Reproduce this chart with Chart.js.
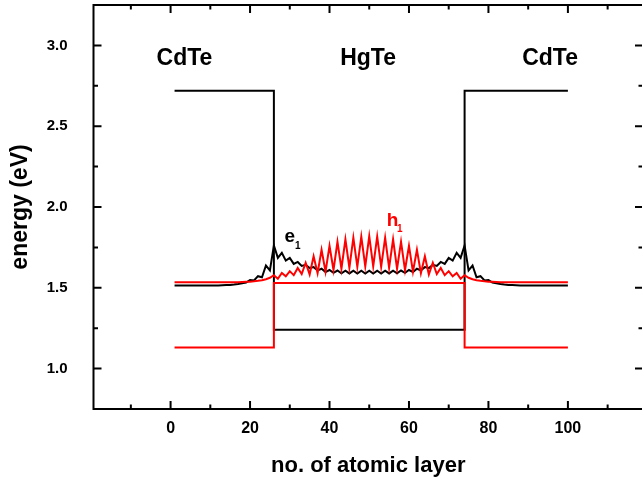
<!DOCTYPE html>
<html>
<head>
<meta charset="utf-8">
<script src="https://cdn.jsdelivr.net/npm/chart.js@4.4.0/dist/chart.umd.min.js"></script>
<style>
  html, body { margin: 0; padding: 0; background: #fff; overflow: hidden; }
  #wrap { width: 646px; height: 483px; position: relative; }
</style>
</head>
<body>
<div id="wrap"><canvas id="bandChart"></canvas></div>
<script>
// atomic layer index
const layers = [
  1, 2, 3, 4, 5, 6, 7, 8, 9, 10, 11, 12, 13, 14, 15, 16, 17, 18, 19, 20,
  21, 22, 23, 24, 25, 26, 27, 28, 29, 30, 31, 32, 33, 34, 35, 36, 37, 38, 39, 40,
  41, 42, 43, 44, 45, 46, 47, 48, 49, 50, 51, 52, 53, 54, 55, 56, 57, 58, 59, 60,
  61, 62, 63, 64, 65, 66, 67, 68, 69, 70, 71, 72, 73, 74, 75, 76, 77, 78, 79, 80,
  81, 82, 83, 84, 85, 86, 87, 88, 89, 90, 91, 92, 93, 94, 95, 96, 97, 98, 99, 100
];

// e1 state (eV)
const e1Energy = [
  1.515, 1.515, 1.515, 1.515, 1.515, 1.515, 1.515, 1.515, 1.515, 1.515,
  1.515, 1.515, 1.516, 1.517, 1.518, 1.520, 1.523, 1.528, 1.532, 1.548,
  1.545, 1.572, 1.565, 1.638, 1.608, 1.762, 1.685, 1.716, 1.668, 1.685,
  1.648, 1.660, 1.635, 1.642, 1.622, 1.628, 1.608, 1.618, 1.598, 1.610,
  1.593, 1.607, 1.590, 1.606, 1.589, 1.606, 1.588, 1.606, 1.588, 1.606,
  1.588, 1.606, 1.588, 1.606, 1.589, 1.606, 1.590, 1.607, 1.593, 1.610,
  1.598, 1.618, 1.608, 1.628, 1.622, 1.642, 1.635, 1.660, 1.648, 1.685,
  1.668, 1.716, 1.685, 1.762, 1.608, 1.638, 1.565, 1.572, 1.545, 1.548,
  1.532, 1.528, 1.523, 1.520, 1.518, 1.517, 1.516, 1.515, 1.515, 1.515,
  1.515, 1.515, 1.515, 1.515, 1.515, 1.515, 1.515, 1.515, 1.515, 1.515
];

// h1 state (eV)
const h1Energy = [
  1.535, 1.535, 1.535, 1.535, 1.535, 1.535, 1.535, 1.535, 1.535, 1.535,
  1.535, 1.535, 1.535, 1.535, 1.535, 1.535, 1.535, 1.536, 1.537, 1.538,
  1.540, 1.543, 1.547, 1.553, 1.562, 1.578, 1.556, 1.592, 1.571, 1.603,
  1.578, 1.623, 1.585, 1.655, 1.582, 1.695, 1.590, 1.735, 1.600, 1.760,
  1.610, 1.785, 1.618, 1.800, 1.624, 1.810, 1.630, 1.817, 1.633, 1.820,
  1.633, 1.817, 1.630, 1.810, 1.624, 1.800, 1.618, 1.785, 1.610, 1.760,
  1.600, 1.735, 1.590, 1.695, 1.582, 1.655, 1.585, 1.623, 1.578, 1.603,
  1.571, 1.592, 1.556, 1.578, 1.562, 1.553, 1.547, 1.543, 1.540, 1.538,
  1.537, 1.536, 1.535, 1.535, 1.535, 1.535, 1.535, 1.535, 1.535, 1.535,
  1.535, 1.535, 1.535, 1.535, 1.535, 1.535, 1.535, 1.535, 1.535, 1.535
];

// band edges CdTe / HgTe / CdTe
const edgeLayers = [1, 26, 26, 74, 74, 100];
const condEdge = [2.72, 2.72, 1.24, 1.24, 2.72, 2.72];
const valEdge = [1.13, 1.13, 1.53, 1.53, 1.13, 1.13];

const xTickValues = [0, 20, 40, 60, 80, 100];
const yTickValues = [1.0, 1.5, 2.0, 2.5, 3.0];

const FONT = "'Liberation Sans', Arial, sans-serif";

function toPoints(xs, ys) {
  return xs.map((x, i) => ({ x: x, y: ys[i] }));
}

function lineSet(label, xs, ys, color) {
  return {
    label: label,
    data: toPoints(xs, ys),
    showLine: true,
    borderColor: color,
    borderWidth: 2,
    pointRadius: 0,
    tension: 0,
    fill: false
  };
}

// frame with inward ticks on all four sides, plus the text labels
const framePlugin = {
  id: 'frame',
  afterDraw(chart) {
    const { ctx, chartArea: a, scales: { x, y } } = chart;
    ctx.save();
    ctx.strokeStyle = '#000';
    ctx.lineWidth = 2;
    ctx.strokeRect(a.left, a.top, a.right - a.left, a.bottom - a.top);
    ctx.beginPath();
    for (let k = -2; k <= 12; k++) {
      const v = k * 10;
      if (v < x.min || v > x.max) continue;
      const px = x.getPixelForValue(v);
      const len = k % 2 === 0 ? 8 : 4.5;
      ctx.moveTo(px, a.bottom); ctx.lineTo(px, a.bottom - len);
      ctx.moveTo(px, a.top); ctx.lineTo(px, a.top + len);
    }
    for (let k = 3; k <= 13; k++) {
      const v = k * 0.25;
      if (v < y.min || v > y.max) continue;
      const py = y.getPixelForValue(v);
      const len = k % 2 === 0 ? 8 : 4.5;
      ctx.moveTo(a.left, py); ctx.lineTo(a.left + len, py);
      ctx.moveTo(a.right, py); ctx.lineTo(a.right - len, py);
    }
    ctx.stroke();

    ctx.fillStyle = '#000';
    ctx.textBaseline = 'alphabetic';
    ctx.textAlign = 'center';
    ctx.font = 'bold 23px ' + FONT;
    ctx.fillText('CdTe', x.getPixelForValue(3.5), y.getPixelForValue(2.88));
    ctx.fillText('HgTe', x.getPixelForValue(49.7), y.getPixelForValue(2.88));
    ctx.fillText('CdTe', x.getPixelForValue(95.5), y.getPixelForValue(2.88));

    ctx.textAlign = 'left';
    ctx.font = 'bold 19px ' + FONT;
    ctx.fillText('e', x.getPixelForValue(28.65), y.getPixelForValue(1.784));
    ctx.font = 'bold 10px ' + FONT;
    ctx.fillText('1', x.getPixelForValue(31.3), y.getPixelForValue(1.741));

    ctx.fillStyle = '#ff0000';
    ctx.font = 'bold 19px ' + FONT;
    ctx.fillText('h', x.getPixelForValue(54.4), y.getPixelForValue(1.881));
    ctx.font = 'bold 10px ' + FONT;
    ctx.fillText('1', x.getPixelForValue(57.0), y.getPixelForValue(1.844));
    ctx.restore();
  }
};

new Chart(document.getElementById('bandChart').getContext('2d'), {
  type: 'scatter',
  data: {
    datasets: [
      lineSet('h1', layers, h1Energy, '#ff0000'),
      lineSet('valence edge', edgeLayers, valEdge, '#ff0000'),
      lineSet('e1', layers, e1Energy, '#000000'),
      lineSet('conduction edge', edgeLayers, condEdge, '#000000')
    ]
  },
  options: {
    responsive: true,
    maintainAspectRatio: false,
    animation: false,
    layout: { padding: { top: 5, right: 3, left: 0, bottom: 0 } },
    plugins: {
      legend: { display: false },
      tooltip: { enabled: false }
    },
    scales: {
      x: {
        type: 'linear',
        min: -19.4,
        max: 118.9,
        grid: { display: false, drawTicks: false },
        border: { display: false },
        afterBuildTicks: s => { s.ticks = xTickValues.map(v => ({ value: v })); },
        afterFit: s => { s.height = 74; s.paddingLeft = 0; s.paddingRight = 0; },
        ticks: {
          color: '#000',
          padding: 10,
          maxRotation: 0,
          font: { family: FONT, size: 16, weight: 'bold' }
        },
        title: {
          display: true,
          text: 'no. of atomic layer',
          color: '#000',
          padding: { top: 0, bottom: 4 },
          font: { family: FONT, size: 22, weight: 'bold' }
        }
      },
      y: {
        min: 0.75,
        max: 3.25,
        grid: { display: false, drawTicks: false },
        border: { display: false },
        afterBuildTicks: s => { s.ticks = yTickValues.map(v => ({ value: v })); },
        afterFit: s => { s.width = 93.5; s.paddingTop = 0; s.paddingBottom = 0; },
        ticks: {
          color: '#000',
          padding: 26,
          callback: v => v.toFixed(1),
          font: { family: FONT, size: 15, weight: 'bold' }
        },
        title: {
          display: true,
          text: 'energy (eV)',
          color: '#000',
          padding: { top: 7, bottom: 0 },
          font: { family: FONT, size: 23, weight: 'bold' }
        }
      }
    }
  },
  plugins: [framePlugin]
});
</script>
</body>
</html>
